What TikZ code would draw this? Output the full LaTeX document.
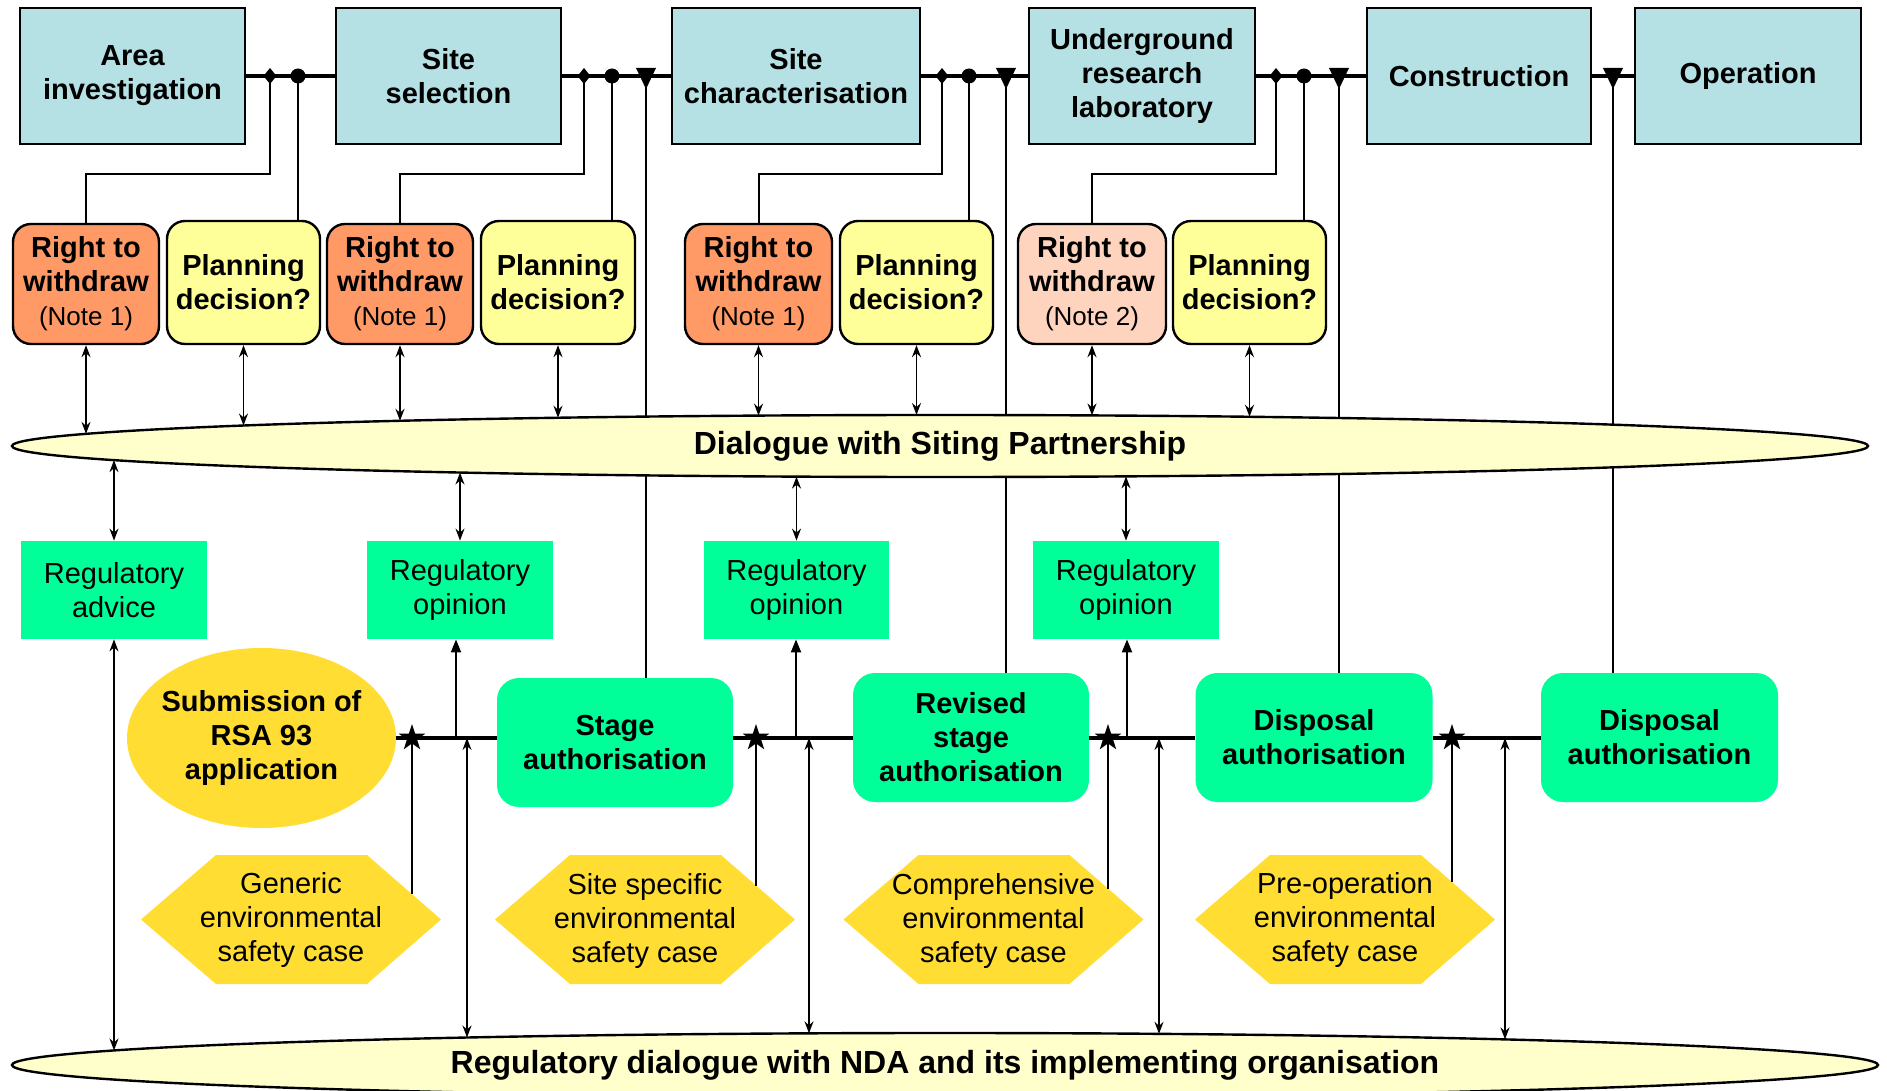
\documentclass[tikz,border=0pt]{standalone}
\usepackage{fontspec}
\setmainfont{Liberation Sans}
\usetikzlibrary{arrows.meta,shapes.geometric}
\pgfdeclarelayer{bg}
\pgfsetlayers{bg,main}
\definecolor{topblue}{RGB}{181,224,228}
\definecolor{rworange}{RGB}{255,153,102}
\definecolor{rwpeach}{RGB}{255,212,190}
\definecolor{pdyellow}{RGB}{255,255,153}
\definecolor{regreen}{RGB}{0,255,153}
\definecolor{goldy}{RGB}{255,221,51}
\definecolor{cream}{RGB}{255,255,204}
\newcommand\notefnt{\fontsize{13}{16}\selectfont\mdseries}
\newcommand\topE[1]{446-31*sqrt(1-((#1-940)/928)^2)}
\newcommand\topEb[1]{446+31*sqrt(1-((#1-940)/928)^2)}
\newcommand\botE[1]{1065-32*sqrt(1-((#1-945)/933)^2)}
\begin{document}
\begin{tikzpicture}[x=0.5pt,y=-0.5pt,
  every node/.style={inner sep=0pt, align=center},
  bfont/.style={font=\fontsize{14.5}{17}\selectfont\bfseries},
  rfont/.style={font=\fontsize{14.5}{17}\selectfont},
  sz/.style 2 args={minimum width=#1*0.5pt, minimum height=#2*0.5pt},
  phase/.style={draw, line width=1.2pt, fill=topblue, bfont},
  choice/.style={draw, line width=1.2pt, rounded corners=9pt, bfont},
  reg/.style={fill=regreen, rfont},
  auth/.style={fill=regreen, rounded corners=11pt, bfont},
  dlgstyle/.style={ellipse, draw, line width=1.2pt, fill=cream, font=\fontsize{16}{19}\selectfont\bfseries},
  conn/.style={line width=1pt},
  mainline/.style={line width=1.6pt},
  dbl/.style={line width=0.8pt, {Stealth[length=6pt,width=4.5pt,inset=2pt]}-{Stealth[length=6pt,width=4.5pt,inset=2pt]}},
  upar/.style={line width=1pt, -{Triangle[length=6.5pt,width=5pt]}},
  starn/.style={star, star points=5, star point ratio=2.6, fill=black, inner sep=0pt, minimum size=14pt},
  hexfill/.style={fill=goldy}
]
\useasboundingbox (0,0) rectangle (1887,1091);

% ---- phase boxes
\node[phase, sz={225}{136}] (ai) at (132.5,76) {Area\\investigation};
\node[phase, sz={225}{136}] (ss) at (448.5,76) {Site\\selection};
\node[phase, sz={248}{136}] (sc) at (796,76) {Site\\characterisation};
\node[phase, sz={226}{136}] (url) at (1142,76) {Underground\\research\\laboratory};
\node[phase, sz={224}{136}] (con) at (1479,76) {Construction};
\node[phase, sz={226}{136}] (op) at (1748,76) {Operation};

% ---- choice boxes
\node[choice, fill=rworange, sz={146}{120}] (rw1) at (86,284) {Right to\\withdraw\\{\notefnt (Note 1)}};
\node[choice, fill=pdyellow, sz={153}{123}] (pd1) at (243.5,282.5) {Planning\\decision?};
\node[choice, fill=rworange, sz={146}{120}] (rw2) at (400,284) {Right to\\withdraw\\{\notefnt (Note 1)}};
\node[choice, fill=pdyellow, sz={154}{123}] (pd2) at (558,282.5) {Planning\\decision?};
\node[choice, fill=rworange, sz={147}{120}] (rw3) at (758.5,284) {Right to\\withdraw\\{\notefnt (Note 1)}};
\node[choice, fill=pdyellow, sz={153}{123}] (pd3) at (916.5,282.5) {Planning\\decision?};
\node[choice, fill=rwpeach, sz={148}{120}] (rw4) at (1092,284) {Right to\\withdraw\\{\notefnt (Note 2)}};
\node[choice, fill=pdyellow, sz={153}{123}] (pd4) at (1249.5,282.5) {Planning\\decision?};

% ---- dialogue ellipses
\node[dlgstyle, sz={1856}{62}] (dlg) at (940,446) {Dialogue with Siting Partnership};
\node[dlgstyle, sz={1866}{64}] (rdl) at (945,1065) {Regulatory dialogue with NDA and its implementing organisation};

% ---- regulatory boxes
\node[reg, sz={186}{98}] (adv) at (114,590) {Regulatory\\advice};
\node[reg, sz={186}{98}] (op1) at (460,590) {Regulatory\\opinion};
\node[reg, sz={185}{98}] (op2) at (796.5,590) {Regulatory\\opinion};
\node[reg, sz={186}{98}] (op3) at (1126,590) {Regulatory\\opinion};

% ---- authorisation row
\node[ellipse, fill=goldy, sz={269}{180}] (sub) at (261.5,738) {};
\node[bfont] (subt) at (sub.center) {Submission of\\RSA 93\\application};
\node[auth, sz={236}{129}] (st) at (615,742.5) {Stage\\authorisation};
\node[auth, sz={236}{129}] (rv) at (971,737.5) {Revised\\stage\\authorisation};
\node[auth, sz={237}{129}] (da1) at (1314,737.5) {Disposal\\authorisation};
\node[auth, sz={237}{129}] (da2) at (1659.5,737.5) {Disposal\\authorisation};

% ---- hexagons
\fill[hexfill] (141,919.5) -- (216,855) -- (367,855) -- (441,919.5) -- (367,984) -- (216,984) -- cycle;
\node[rfont] (hx1) at (291,919.5) {Generic\\environmental\\safety case};
\fill[hexfill] (495,919.5) -- (570,855) -- (721,855) -- (795,919.5) -- (721,984) -- (570,984) -- cycle;
\node[rfont] (hx2) at (645,921) {Site specific\\environmental\\safety case};
\fill[hexfill] (843.5,919.5) -- (918.5,855) -- (1069.5,855) -- (1143.5,919.5) -- (1069.5,984) -- (918.5,984) -- cycle;
\node[rfont] (hx3) at (993.5,921) {Comprehensive\\environmental\\safety case};
\fill[hexfill] (1195,919.5) -- (1270,855) -- (1421,855) -- (1495,919.5) -- (1421,984) -- (1270,984) -- cycle;
\node[rfont] (hx4) at (1345,919.5) {Pre-operation\\environmental\\safety case};

% ---- marker coordinates on top line
\coordinate (dm1) at (270,76);  \coordinate (ci1) at (298,76);
\coordinate (dm2) at (584,76);  \coordinate (ci2) at (612,76);  \coordinate (t1) at (646,76);
\coordinate (dm3) at (942,76);  \coordinate (ci3) at (969,76);  \coordinate (t2) at (1006,76);
\coordinate (dm4) at (1276,76); \coordinate (ci4) at (1304,76); \coordinate (t3) at (1339,76);
\coordinate (t4) at (1613,76);

% ---- long lines behind the dialogue ellipse
\begin{pgfonlayer}{bg}
\draw[conn] (t1) -- (t1 |- st.north);
\draw[conn] (t2) -- (t2 |- rv.north);
\draw[conn] (t3) -- (t3 |- da1.north);
\draw[conn] (t4) -- (t4 |- da2.north);
\end{pgfonlayer}

% ---- top line
\draw[mainline] (ai.east) -- (ss.west);
\draw[mainline] (ss.east) -- (sc.west);
\draw[mainline] (sc.east) -- (url.west);
\draw[mainline] (url.east) -- (con.west);
\draw[mainline] (con.east) -- (op.west);

% ---- connectors to choice boxes
\draw[conn] (dm1) -- ++(0,98) -| (rw1.north);
\draw[conn] (dm2) -- ++(0,98) -| (rw2.north);
\draw[conn] (dm3) -- ++(0,98) -| (rw3.north);
\draw[conn] (dm4) -- ++(0,98) -| (rw4.north);
\draw[conn] (ci1) -- (ci1 |- pd1.north);
\draw[conn] (ci2) -- (ci2 |- pd2.north);
\draw[conn] (ci3) -- (ci3 |- pd3.north);
\draw[conn] (ci4) -- (ci4 |- pd4.north);

% ---- markers
\foreach \p in {dm1,dm2,dm3,dm4}
  \fill (\p) ++(0,-8) -- ++(6.5,8) -- ++(-6.5,8) -- ++(-6.5,-8) -- cycle;
\foreach \p in {ci1,ci2,ci3,ci4}
  \fill (\p) circle[radius=3.75pt];
\foreach \p in {t1,t2,t3,t4}
  \fill (\p) ++(-10,-8) -- ++(20,0) -- ++(-10,21) -- cycle;

% ---- arrows between choice boxes and dialogue
\foreach \n/\x in {rw1/86,pd1/243.5,rw2/400,pd2/558,rw3/758.5,pd3/916.5,rw4/1092,pd4/1249.5}{
  \coordinate (e\n) at (\x,{\topE{\x}});
  \draw[dbl] (\n.south) -- (e\n);
}
\foreach \n/\x in {adv/114,op1/460,op2/796.5,op3/1126}{
  \coordinate (f\n) at (\x,{\topEb{\x}});
  \draw[dbl] (f\n) -- (\n.north);
}
\coordinate (gadv) at (114,{\botE{114}});
\draw[dbl] (adv.south) -- (gadv);

% ---- authorisation line
\draw[mainline] (sub.east) -- (sub.east -| st.west);
\draw[mainline] (st.east |- sub.east) -- (rv.west |- sub.east);
\draw[mainline] (rv.east |- sub.east) -- (da1.west |- sub.east);
\draw[mainline] (da1.east |- sub.east) -- (da2.west |- sub.east);

\foreach \n/\x in {op1/456,op2/796,op3/1127}{
  \coordinate (u\n) at (\x,738);
  \draw[upar] (u\n) -- (u\n |- \n.south);
}
\foreach \i/\x in {1/467,2/809,3/1159,4/1505}{
  \coordinate (v\i) at (\x,738);
  \coordinate (w\i) at (\x,{\botE{\x}});
  \draw[dbl] (v\i) -- (w\i);
}
\foreach \i/\x/\y in {1/412/894.2,2/756/885.5,3/1108/888.6,4/1452/882}{
  \coordinate (h\i) at (\x,\y);
  \node[starn] (s\i) at (\x,738) {};
  \draw[conn] (h\i) -- (s\i.center);
}
\end{tikzpicture}
\end{document}
